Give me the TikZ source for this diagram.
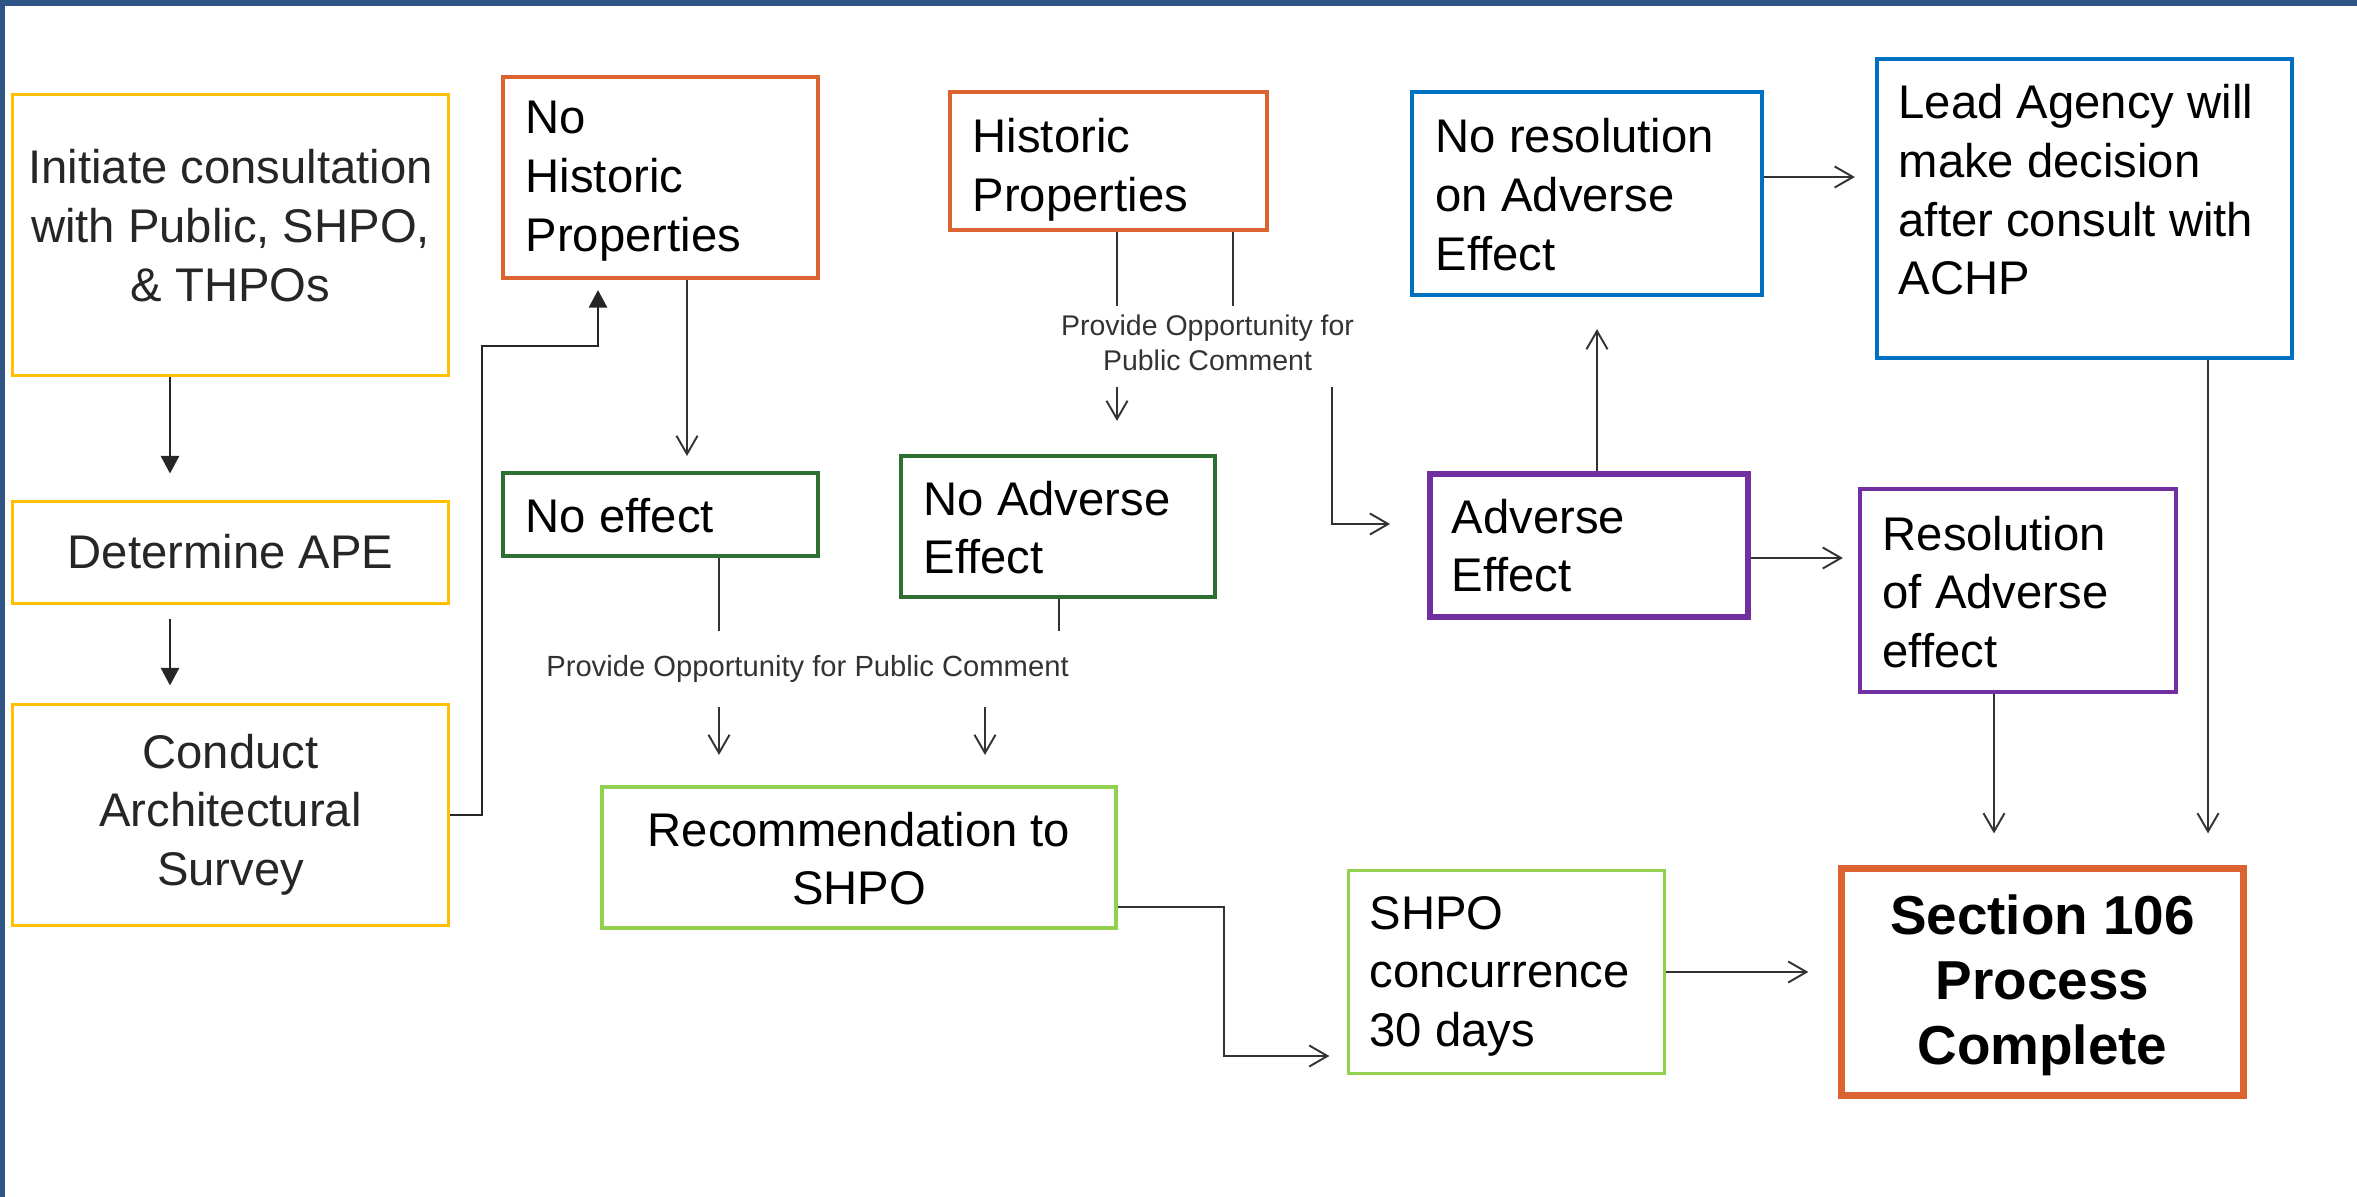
\documentclass[tikz,border=0pt]{standalone}
\usepackage{fontspec}
\setmainfont{Liberation Sans}
\usetikzlibrary{arrows.meta,calc}
\definecolor{yel}{HTML}{FFC000}
\definecolor{org}{HTML}{DA6330}
\definecolor{dgrn}{HTML}{2E7031}
\definecolor{lgrn}{HTML}{92D050}
\definecolor{blu}{HTML}{0070C0}
\definecolor{pur}{HTML}{7030A0}
\definecolor{frm}{HTML}{2F5587}
\definecolor{ink}{HTML}{262626}
\definecolor{lnk}{HTML}{333333}
\newcommand\Ltab[1]{\begin{tabular}[t]{@{}l@{}}#1\end{tabular}}
\newcommand\Ctab[1]{\begin{tabular}[t]{@{}c@{}}#1\end{tabular}}
\begin{document}
\begin{tikzpicture}[x=0.01cm,y=-0.01cm,
  box/.style={draw, inner sep=0pt, fill=white},
  thinb/.style={line width=0.85pt},
  medb/.style={line width=1.14pt},
  txt/.style={inner sep=0pt, font=\fontsize{13.43pt}{16.64pt}\selectfont, text=black},
  ltxt/.style={txt, text=ink},
  btxt/.style={inner sep=0pt, font=\fontsize{15.6pt}{18.5pt}\selectfont\bfseries, text=black},
  cmt/.style={inner sep=0pt, font=\fontsize{8.1pt}{9.67pt}\selectfont, text=lnk},
  cmtb/.style={inner sep=0pt, font=\fontsize{8.3pt}{9.9pt}\selectfont, text=lnk},
  arrF/.style={draw=ink, line width=0.6pt, -{Triangle[width=5.2pt,length=5pt]}},
  arrO/.style={draw=lnk, line width=0.55pt, -{Straight Barb[width=6pt,length=5.2pt]}},
  seg/.style={draw=lnk, line width=0.55pt}
]
\useasboundingbox (0,0) rectangle (2357,1197);
\fill[frm] (0,0) rectangle (2357,6);
\fill[frm] (0,0) rectangle (5,1197);

% boxes
\node[box, draw=yel, thinb, minimum width=4.35cm, minimum height=2.80cm] (init) at (230.5,235) {};
\node[box, draw=yel, thinb, minimum width=4.35cm, minimum height=1.01cm] (ape) at (230.5,552.5) {};
\node[box, draw=yel, thinb, minimum width=4.35cm, minimum height=2.20cm] (cond) at (230.5,815) {};
\node[box, draw=org, medb, minimum width=3.15cm, minimum height=2.01cm] (nohist) at (660.5,177.5) {};
\node[box, draw=org, medb, minimum width=3.17cm, minimum height=1.38cm] (hist) at (1108.5,161) {};
\node[box, draw=dgrn, medb, minimum width=3.15cm, minimum height=0.83cm] (noeff) at (660.5,514.5) {};
\node[box, draw=dgrn, medb, minimum width=3.14cm, minimum height=1.41cm] (noadv) at (1058,526.5) {};
\node[box, draw=lgrn, medb, minimum width=5.14cm, minimum height=1.41cm] (rec) at (859,857.5) {};
\node[box, draw=blu, medb, minimum width=3.50cm, minimum height=2.03cm] (nores) at (1587,193.5) {};
\node[box, draw=blu, medb, minimum width=4.15cm, minimum height=2.99cm] (lead) at (2084.5,208.5) {};
\node[box, draw=pur, line width=1.6pt, minimum width=3.18cm, minimum height=1.43cm] (adv) at (1589,545.5) {};
\node[box, draw=pur, medb, minimum width=3.16cm, minimum height=2.03cm] (res) at (2018,590.5) {};
\node[box, draw=lgrn, thinb, minimum width=3.15cm, minimum height=2.02cm] (conc) at (1506.5,972) {};
\node[box, draw=org, line width=2pt, minimum width=4.01cm, minimum height=2.26cm] (sec) at (2042.5,982) {};

% texts
\node[ltxt, anchor=base] (init-t) at (230.5,184) {\Ctab{Initiate consultation\\with Public, SHPO,\\\& THPOs}};
\node[ltxt, anchor=base] (ape-t) at (230.5,568) {Determine APE};
\node[ltxt, anchor=base] (cond-t) at (230.5,768) {\Ctab{Conduct\\Architectural\\Survey}};
\node[txt, anchor=base west] (nohist-t) at (525,134) {\Ltab{No\\Historic\\Properties}};
\node[txt, anchor=base west] (hist-t) at (972,153) {\Ltab{Historic\\Properties}};
\node[txt, anchor=base west] (noeff-t) at (525,532) {No effect};
\node[txt, anchor=base west] (noadv-t) at (923,515) {\Ltab{No Adverse\\Effect}};
\node[txt, anchor=base] (rec-t) at (859,846) {\Ctab{Recommendation to\\SHPO}};
\node[txt, anchor=base west] (nores-t) at (1435,153) {\Ltab{No resolution\\on Adverse\\Effect}};
\node[txt, anchor=base west] (lead-t) at (1898,119) {\Ltab{Lead Agency will\\make decision\\after consult with\\ACHP}};
\node[txt, anchor=base west] (adv-t) at (1451,533) {\Ltab{Adverse\\Effect}};
\node[txt, anchor=base west] (res-t) at (1882,550) {\Ltab{Resolution\\of Adverse\\effect}};
\node[txt, anchor=base west] (conc-t) at (1369,929) {\Ltab{SHPO\\concurrence\\30 days}};
\node[btxt, anchor=base] (sec-t) at (2042.5,934) {\Ctab{Section 106\\Process\\Complete}};
\node[cmt, anchor=base] (pc1) at (1207.5,336) {\Ctab{Provide Opportunity for\\Public Comment}};
\node[cmtb, anchor=base] (pc2) at (807.5,676) {Provide Opportunity for Public Comment};

% connectors
\coordinate (xa) at (170,0);
\draw[arrF, shorten >=0.27cm] (init.south -| xa) -- (ape.north -| xa);
\draw[arrF, shorten <=0.14cm, shorten >=0.18cm] (ape.south -| xa) -- (cond.north -| xa);
\coordinate (k1) at (482,346);
\coordinate (k2) at (598,346);
\draw[arrF, shorten >=0.10cm] (cond.east) -| (k1) -- (k2) -- (nohist.south -| k2);

\coordinate (x687) at (687,0);
\draw[arrO, shorten >=0.15cm] (nohist.south -| x687) -- (noeff.north -| x687);

\coordinate (h1) at (1117,306);
\coordinate (h2) at (1233,306);
\draw[seg] (hist.south -| h1) -- (h1);
\draw[seg] (hist.south -| h2) -- (h2);
\coordinate (h3) at (1117,387);
\draw[arrO, shorten >=0.33cm] (h3) -- (noadv.north -| h3);
\coordinate (h4) at (1332,387);
\coordinate (h5) at (1332,524);
\draw[arrO, shorten >=0.37cm] (h4) -- (h5) -- (adv.west |- h5);

\coordinate (e1) at (719,631);
\draw[seg] (noeff.south -| e1) -- (e1);
\coordinate (e2) at (1059,631);
\draw[seg] (noadv.south -| e2) -- (e2);
\coordinate (e3) at (719,707);
\draw[arrO, shorten >=0.30cm] (e3) -- (rec.north -| e3);
\coordinate (e4) at (985,707);
\draw[arrO, shorten >=0.30cm] (e4) -- (rec.north -| e4);

\coordinate (r1) at (1224,907);
\coordinate (r2) at (1224,1056);
\draw[arrO, shorten >=0.18cm] (rec.east |- r1) -- (r1) -- (r2) -- (conc.west |- r2);

\draw[arrO, shorten >=0.30cm] (conc.east) -- (sec.west |- conc.east);

\coordinate (a1) at (1597,0);
\draw[arrO, shorten >=0.32cm] (adv.north -| a1) -- (nores.south -| a1);
\coordinate (n1) at (0,177);
\draw[arrO, shorten >=0.20cm] (nores.east |- n1) -- (lead.west |- n1);
\coordinate (a2) at (0,558);
\draw[arrO, shorten >=0.15cm] (adv.east |- a2) -- (res.west |- a2);
\coordinate (s1) at (1994,0);
\draw[arrO, shorten >=0.32cm] (res.south -| s1) -- (sec.north -| s1);
\coordinate (s2) at (2208,0);
\draw[arrO, shorten >=0.32cm] (lead.south -| s2) -- (sec.north -| s2);
\end{tikzpicture}
\end{document}
